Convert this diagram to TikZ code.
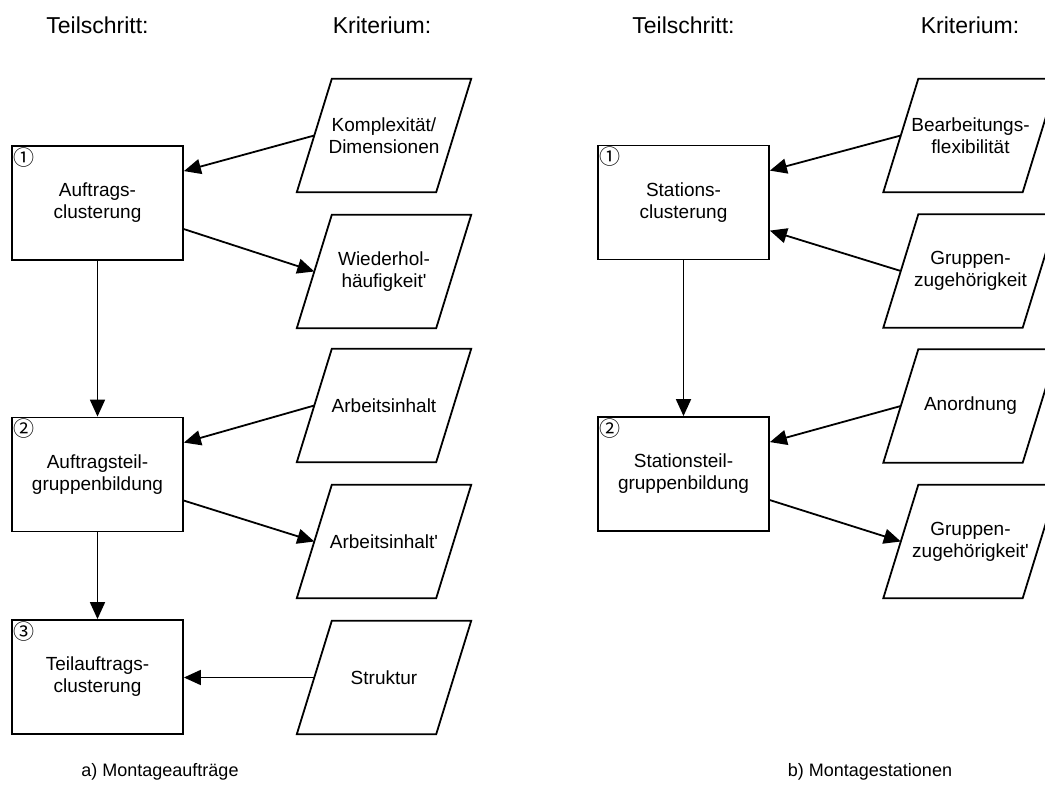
\documentclass[tikz,border=0pt]{standalone}
\usepackage{fontspec}
\setmainfont{Liberation Sans}
\newfontfamily\circfont{Noto Sans CJK SC}
\usetikzlibrary{arrows.meta,calc}

% outline of a criterion node: a parallelogram leaning to the right
\newcommand\slantframe[1]{%
  \draw[line width=1.8pt, line join=miter]
    ($(#1.south west)+(-17.5,0)$) -- ($(#1.north west)+(17.5,0)$) --
    ($(#1.north east)+(17.5,0)$) -- ($(#1.south east)+(-17.5,0)$) -- cycle;}

\begin{document}
\begin{tikzpicture}[x=1pt,y=-1pt,
  every node/.style={font=\fontsize{19}{22}\selectfont, align=center, inner sep=0pt},
  heading/.style={font=\fontsize{23}{26}\selectfont},
  caption/.style={font=\fontsize{18}{22}\selectfont},
  stepbox/.style={draw, line width=1.8pt, minimum width=171pt, minimum height=114pt},
  crit/.style={minimum width=139pt, minimum height=113pt},
  conn/.style={line width=1.8pt, -{Triangle[length=17pt,width=15pt]}},
  num/.style={anchor=north west, font=\circfont\fontsize{21}{21}\selectfont, inner sep=0pt},
]
\useasboundingbox (0,0) rectangle (1045,810);
\clip (0,0) rectangle (1045,810);

% column headings
\node[heading] (h1) at (97.5,25) {Teilschritt:};
\node[heading] (h2) at (382,25) {Kriterium:};
\node[heading] (h3) at (683.5,25) {Teilschritt:};
\node[heading] (h4) at (970,25) {Kriterium:};

% ---------- a) Montageauftraege ----------
\node[stepbox] (s1) at (97.5,203) {Auftrags-\\clusterung};
\node[stepbox] (s2) at (97.5,474.5) {Auftragsteil-\\gruppenbildung};
\node[stepbox] (s3) at (97.5,677) {Teilauftrags-\\clusterung};
\node[num] (n1) at ($(s1.north west)+(2,2)$) {①};
\node[num] (n2) at ($(s2.north west)+(2,2)$) {②};
\node[num] (n3) at ($(s3.north west)+(2,2)$) {③};

\node[crit] (k1) at (384,135.5) {Komplexität/\\Dimensionen};
\node[crit] (k2) at (384,271.5) {Wiederhol-\\häufigkeit\textquotesingle};
\node[crit] (k3) at (384,405.5) {Arbeitsinhalt};
\node[crit] (k4) at (384,541.5) {Arbeitsinhalt\textquotesingle};
\node[crit] (k5) at (384,677.5) {Struktur};
\slantframe{k1}\slantframe{k2}\slantframe{k3}\slantframe{k4}\slantframe{k5}

\draw[conn] (s1.south) -- (s2.north);
\draw[conn] (s2.south) -- (s3.north);
\draw[conn] (k1.west) -- ($(s1.north east)+(0,26)$);
\draw[conn] ($(s1.north east)+(0,84)$) -- (k2.west);
\draw[conn] (k3.west) -- ($(s2.north east)+(0,26)$);
\draw[conn] ($(s2.north east)+(0,84)$) -- (k4.west);
\draw[conn] (k5.west) -- (s3.east |- k5.west);

% ---------- b) Montagestationen ----------
\node[stepbox] (t1) at (683.5,202.5) {Stations-\\clusterung};
\node[stepbox] (t2) at (683.5,474) {Stationsteil-\\gruppenbildung};
\node[num] (m1) at ($(t1.north west)+(2,2)$) {①};
\node[num] (m2) at ($(t2.north west)+(2,2)$) {②};

\node[crit] (r1) at (970.5,135.5) {Bearbeitungs-\\flexibilität};
\node[crit] (r2) at (970.5,271) {Gruppen-\\zugehörigkeit};
\node[crit] (r3) at (970.5,406) {Anordnung};
\node[crit] (r4) at (970.5,541.5) {Gruppen-\\zugehörigkeit\textquotesingle};
\slantframe{r1}\slantframe{r2}\slantframe{r3}\slantframe{r4}

\draw[conn] (t1.south) -- (t2.north);
\draw[conn] (r1.west) -- ($(t1.north east)+(0,26)$);
\draw[conn] (r2.west) -- ($(t1.north east)+(0,86)$);
\draw[conn] (r3.west) -- ($(t2.north east)+(0,26)$);
\draw[conn] ($(t2.north east)+(0,84)$) -- (r4.west);

% captions
\node[caption] (c1) at (160,772) {a) Montageaufträge};
\node[caption] (c2) at (870,772) {b) Montagestationen};
\end{tikzpicture}
\end{document}
